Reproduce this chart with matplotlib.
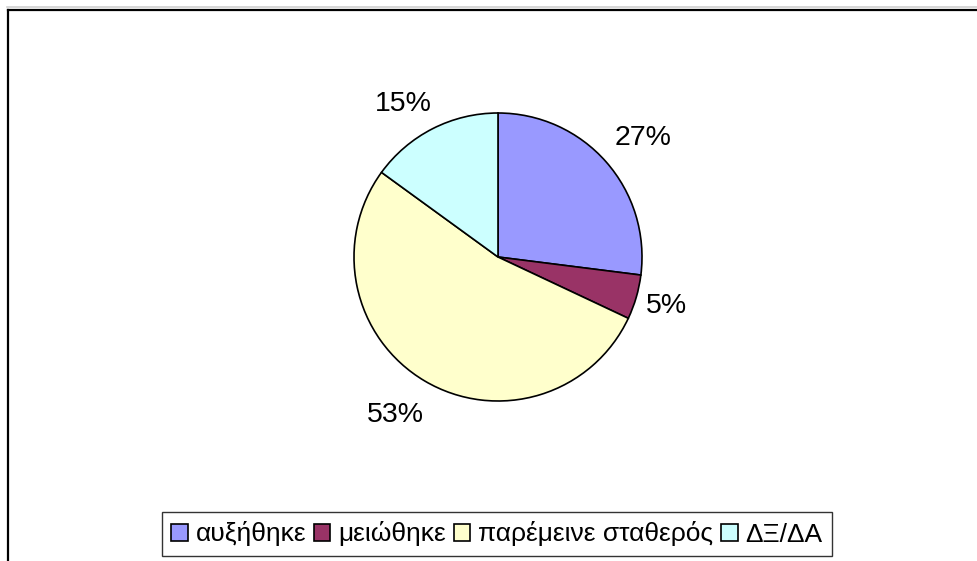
import matplotlib
matplotlib.use("Agg")
import matplotlib.pyplot as plt
from matplotlib.lines import Line2D
import numpy as np

# data
labels = ['αυξήθηκε', 'μειώθηκε', 'παρέμεινε σταθερός', 'ΔΞ/ΔΑ']
values = [27, 5, 53, 15]
colors = ['#9999FF', '#993366', '#FFFFCC', '#CCFFFF']
# placement of each % label: distance from centre (radii) and angle nudge (deg)
label_dist = [1.30, 1.22, 1.31, 1.25]
label_nudge = [-2.0, 0.0, -2.5, 4.8]

plt.rcParams['font.family'] = ['Liberation Sans', 'DejaVu Sans']

W, H = 978, 561
fig = plt.figure(figsize=(W / 100, H / 100), dpi=100)
fig.patch.set_facecolor('white')

# chart frame (only top and left visible)
fig.add_artist(Line2D([7 / W, 1], [1 - 7 / H, 1 - 7 / H], color='#d0d0d0', lw=1.2))
fig.add_artist(Line2D([8 / W, 1], [1 - 9.5 / H, 1 - 9.5 / H], color='black', lw=1.6))
fig.add_artist(Line2D([8 / W, 8 / W], [0, 1 - 9.5 / H], color='black', lw=1.6))

cx, cy, r = 498, 257, 144
ax = fig.add_axes([(cx - r) / W, (H - cy - r) / H, 2 * r / W, 2 * r / H])
wedges, _ = ax.pie(
    values, colors=colors, startangle=90, counterclock=False,
    wedgeprops=dict(edgecolor='black', linewidth=1.2))
ax.set_xlim(-1, 1)
ax.set_ylim(-1, 1)
ax.axis('off')

total = sum(values)
for w, v, d, n in zip(wedges, values, label_dist, label_nudge):
    mid = np.deg2rad((w.theta1 + w.theta2) / 2 + n)
    ax.text(d * np.cos(mid), d * np.sin(mid), f'{round(100 * v / total)}%',
            ha='center', va='center', fontsize=20.5, color='black')

leg = fig.legend(wedges, labels, loc='center',
                 bbox_to_anchor=(497 / W, 1 - 534 / H), ncol=4,
                 fontsize=19, frameon=True, fancybox=False,
                 handlelength=0.62, handleheight=0.62, handletextpad=0.3,
                 columnspacing=0.3, borderpad=0.35)
leg.get_frame().set_edgecolor('black')
leg.get_frame().set_linewidth(1.0)
for h in leg.legend_handles:
    h.set_edgecolor('black')
    h.set_linewidth(1.2)

fig.savefig('out.png', dpi=100)
